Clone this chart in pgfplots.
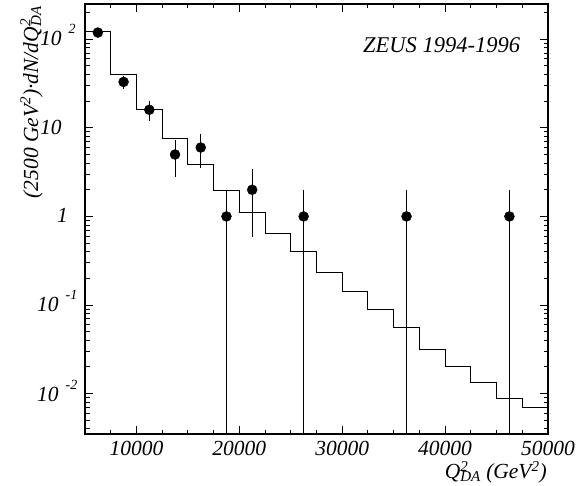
\documentclass[border=0pt]{standalone}
\usepackage{pgfplots}
\pgfplotsset{compat=1.18}
\usepackage{fontspec}
\setmainfont{Liberation Serif}
\newcommand{\sexp}[1]{\kern7pt\raisebox{0.55em}{\fontsize{14}{14}\selectfont #1}}
\begin{document}
\fontsize{21.5}{25}\selectfont\itshape
\begin{tikzpicture}[x=1pt,y=1pt]
\path[use as bounding box] (0,0) rectangle (580,485);
\begin{axis}[
  at={(85pt,51pt)}, anchor=south west,
  scale only axis, width=463pt, height=430pt,
  ymode=log,
  xmin=5000, xmax=50000,
  ymin=0.0035, ymax=250,
  axis line style={line width=1.4pt},
  tick style={black, line width=0.9pt},
  major tick length=8pt, minor tick length=4.5pt,
  tick align=inside,
  xtick={10000,20000,30000,40000,50000},
  xticklabels={10000,20000,30000,40000,50000},
  scaled x ticks=false,
  minor xtick={7500,12500,15000,17500,22500,25000,27500,32500,35000,37500,42500,45000,47500},
  ytick={0.01,0.1,1,10,100},
  yticklabels={},
  minor ytick={0.004,0.005,0.006,0.007,0.008,0.009,0.02,0.03,0.04,0.05,0.06,0.07,0.08,0.09,0.2,0.3,0.4,0.5,0.6,0.7,0.8,0.9,2,3,4,5,6,7,8,9,20,30,40,50,60,70,80,90,200},
  ticklabel style={font=\fontsize{21.5}{25}\selectfont\itshape},
  xticklabel style={yshift=0pt},
  clip=true,
]
\addplot[const plot, black, line width=0.9pt] coordinates {
(5000,123) (7500,40.5) (10000,16.0) (12500,7.67) (15000,3.9)
(17500,1.94) (20000,1.12) (22500,0.65) (25000,0.40) (27500,0.236)
(30000,0.141) (32500,0.0885) (35000,0.0555) (37500,0.0313) (40000,0.020)
(42500,0.0135) (45000,0.0089) (47500,0.0070) (50000,0.0070)};
\addplot[only marks, black, mark=*, mark size=5pt,
  error bars/.cd, y dir=both, y explicit, error mark=none,
  error bar style={line width=0.9pt, black}]
  table[x=x, y=y, y error plus=ep, y error minus=em] {
x y ep em
6250 119 11 11
8750 33 5.74 5.74
11250 16 4 4
13750 5 2.24 2.24
16250 6 2.45 2.45
18750 1 1 0.9995
21250 2 1.41 1.41
26250 1 1 0.9995
36250 1 1 0.9995
46250 1 1 0.9995
};
\end{axis}
% y tick labels placed at tick heights (axis bottom 51pt, 88.6pt per decade, 1 at 485-215.7)
\node[anchor=base west, inner sep=0pt] at (37,485-394-7) {10\sexp{-2}};
\node[anchor=base west, inner sep=0pt] at (37,485-304.3-7) {10\sexp{-1}};
\node[anchor=base west, inner sep=0pt] at (57,485-215.7-7) {1};
\node[anchor=base west, inner sep=0pt] at (40,485-127.1-7) {10};
\node[anchor=base west, inner sep=0pt] at (40,485-38.5-7) {10\sexp{2}};
\node[rotate=90, anchor=base east, inner sep=0pt] at (38,479)
  {(2500 GeV\textsuperscript{2})·dN/dQ\rlap{\textsuperscript{2}}\textsubscript{DA}};
\node[anchor=base east, inner sep=0pt] at (547,7)
  {Q\rlap{\raisebox{-1pt}{\textsuperscript{2}}}\textsubscript{DA} (GeV\textsuperscript{\raisebox{-1pt}{2}})};
\node[anchor=base west, inner sep=0pt, font=\fontsize{22.5}{26}\selectfont\itshape] at (363,432) {ZEUS 1994-1996};
\end{tikzpicture}
\end{document}
